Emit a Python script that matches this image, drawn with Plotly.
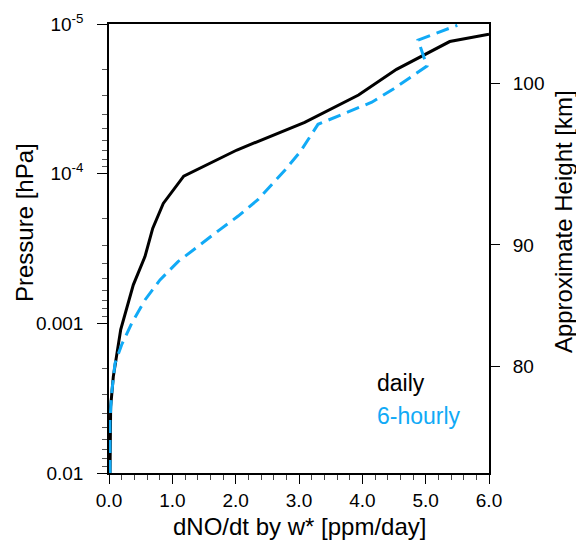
import plotly.graph_objects as go

# ---- data ----
daily_x = [0.016, 0.02, 0.026, 0.068, 0.185, 0.384, 0.568, 0.69, 0.857, 1.18, 2.02, 3.09, 3.94, 4.54, 5.38, 6.0]
daily_p = [1.0e-2, 5.0e-3, 3.61e-3, 2.27e-3, 1.10e-3, 5.53e-4, 3.58e-4, 2.32e-4, 1.58e-4, 1.04e-4,
           6.95e-5, 4.54e-5, 2.98e-5, 2.01e-5, 1.31e-5, 1.17e-5]

hourly6_x = [0.016, 0.016, 0.042, 0.095, 0.2, 0.358, 0.568, 0.805, 1.09, 1.41, 1.73, 2.04, 2.36,
             2.78, 3.02, 3.3, 3.78, 4.15, 4.49, 5.02, 4.88, 5.5]
hourly6_p = [1.0e-2, 4.42e-3, 2.93e-3, 1.85e-3, 1.39e-3, 1.0e-3, 6.98e-4, 5.13e-4, 3.87e-4, 3.04e-4,
             2.40e-4, 1.92e-4, 1.48e-4, 9.44e-5, 7.13e-5, 4.68e-5, 3.85e-5, 3.33e-5, 2.72e-5,
             1.91e-5, 1.28e-5, 1.02e-5]

pressure_ticks = [1e-5, 1e-4, 1e-3, 1e-2]
pressure_ticktext = ["10<sup>-5</sup>", "10<sup>-4</sup>", "0.001", "0.01"]
pressure_minor = [m * 10 ** e for e in (-5, -4, -3) for m in range(2, 10)]

height_km = [100, 90, 80]
height_pressure = [2.48e-5, 2.99e-4, 1.95e-3]

x_ticks = [0, 1, 2, 3, 4, 5, 6]
x_ticktext = ["0.0", "1.0", "2.0", "3.0", "4.0", "5.0", "6.0"]

series_names = ["daily", "6-hourly"]
series_colors = ["#000000", "#11AAF6"]

x_title = "dNO/dt by w* [ppm/day]"
y_title = "Pressure [hPa]"
y2_title = "Approximate Height [km]"

FONT = "Liberation Sans, Arial, Helvetica, sans-serif"
TICK_SIZE = 19
TITLE_SIZE = 24

fig = go.Figure()
fig.add_trace(go.Scatter(x=daily_x, y=daily_p, mode="lines", name=series_names[0],
                         line=dict(color=series_colors[0], width=3), showlegend=False))
fig.add_trace(go.Scatter(x=hourly6_x, y=hourly6_p, mode="lines", name=series_names[1],
                         line=dict(color=series_colors[1], width=3, dash="13px,7px"),
                         showlegend=False))
# invisible trace to activate the right-hand height axis
fig.add_trace(go.Scatter(x=daily_x, y=daily_p, yaxis="y2", mode="lines",
                         line=dict(width=0), opacity=0, showlegend=False, hoverinfo="skip"))

fig.update_layout(
    width=576, height=540,
    margin=dict(l=109, r=87, t=24, b=67, autoexpand=False),
    paper_bgcolor="white", plot_bgcolor="white",
    font=dict(family=FONT, color="black", size=TICK_SIZE),
    xaxis=dict(
        range=[0, 6], tickvals=x_ticks, ticktext=x_ticktext, automargin=False,
        ticks="outside", ticklen=9, tickwidth=1, tickcolor="black",
        showline=True, linecolor="black", linewidth=1.5, mirror=True,
        showgrid=False, zeroline=False, ticklabelstandoff=0,
        minor=dict(dtick=0.2, ticks="outside", ticklen=5, tickcolor="#444", showgrid=False),
        tickfont=dict(size=TICK_SIZE),
    ),
    yaxis=dict(
        type="log", range=[-2, -5], automargin=False,
        tickmode="array", tickvals=pressure_ticks, ticktext=pressure_ticktext,
        ticks="outside", ticklen=10, tickwidth=1, tickcolor="black",
        showline=True, linecolor="black", linewidth=1.5, mirror=True,
        showgrid=False, zeroline=False, ticklabelstandoff=10,
        minor=dict(tickmode="array", tickvals=pressure_minor, ticks="outside", ticklen=5,
                   tickcolor="#555", showgrid=False),
        tickfont=dict(size=TICK_SIZE),
    ),
    yaxis2=dict(
        type="log", range=[-2, -5], overlaying="y", side="right", automargin=False,
        tickmode="array", tickvals=height_pressure, ticktext=[str(h) for h in height_km],
        ticks="outside", ticklen=10, tickwidth=1, tickcolor="black",
        showline=False, showgrid=False, zeroline=False, ticklabelstandoff=9,
        tickfont=dict(size=TICK_SIZE),
    ),
    annotations=[
        dict(x=0.5, y=-0.120, xref="paper", yref="paper", text=x_title,
             showarrow=False, xanchor="center", yanchor="middle",
             font=dict(size=TITLE_SIZE)),
        dict(x=-0.2237, y=0.559, xref="paper", yref="paper", text=y_title, textangle=-90,
             showarrow=False, xanchor="center", yanchor="middle",
             font=dict(size=TITLE_SIZE)),
        dict(x=1.195, y=0.559, xref="paper", yref="paper", text=y2_title, textangle=-90,
             showarrow=False, xanchor="center", yanchor="middle",
             font=dict(size=TITLE_SIZE)),
        dict(x=0.70, y=0.200, xref="paper", yref="paper", text=series_names[0],
             showarrow=False, xanchor="left", yanchor="middle",
             font=dict(size=23, color=series_colors[0])),
        dict(x=0.70, y=0.127, xref="paper", yref="paper", text=series_names[1],
             showarrow=False, xanchor="left", yanchor="middle",
             font=dict(size=23, color=series_colors[1])),
    ],
)

# remove the browser's default 8px body margin so the figure fills the window exactly
fig.write_html("out.html", config={"displayModeBar": False},
               post_script="document.body.style.margin='0';")
